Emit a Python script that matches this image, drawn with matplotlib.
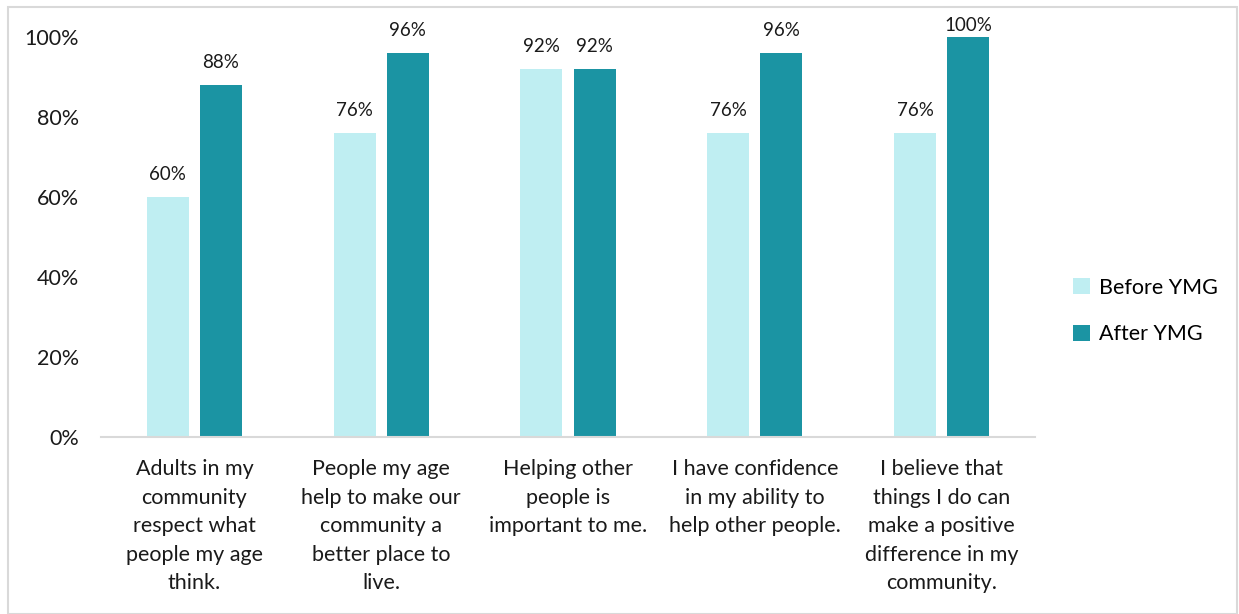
import numpy as np
import matplotlib.pyplot as plt
from matplotlib.patches import Rectangle

plt.rcParams['font.family'] = ['Lato', 'DejaVu Sans']

categories = [
    "Adults in my\ncommunity\nrespect what\npeople my age\nthink.",
    "People my age\nhelp to make our\ncommunity a\nbetter place to\nlive.",
    "Helping other\npeople is\nimportant to me.",
    "I have confidence\nin my ability to\nhelp other people.",
    "I believe that\nthings I do can\nmake a positive\ndifference in my\ncommunity.",
]
before = [60, 76, 92, 76, 76]
after = [88, 96, 92, 96, 100]
series_names = ["Before YMG", "After YMG"]
colors = ["#bfeef2", "#1b94a3"]

fig = plt.figure(figsize=(12.39, 6.14), dpi=100)
ax = fig.add_axes([101 / 1239, 1 - 437 / 614, 934 / 1239, 400 / 614])

x = np.arange(len(categories))
width = 0.225
offset = 0.142

for vals, off, name, col in zip([before, after], [-offset, offset], series_names, colors):
    bars = ax.bar(x + off, vals, width, color=col, label=name)
    for b, v in zip(bars, vals):
        # labels at the top of the scale get pulled down to stay inside the figure
        dy = 10 if v < 100 else 2
        ax.annotate(f"{v}%", (b.get_x() + b.get_width() / 2, v),
                    xytext=(0, dy), textcoords="offset points",
                    ha="center", va="bottom", fontsize=13.5, color="#1a1a1a")

ax.set_xlim(-0.5, len(categories) - 0.5)
ax.set_ylim(0, 100)
ax.set_yticks(range(0, 101, 20))
ax.set_yticklabels([f"{t}%" for t in range(0, 101, 20)], fontsize=15.5, color="#1a1a1a")
ax.set_xticks(x)
ax.set_xticklabels(categories, fontsize=15.5, color="#1a1a1a", va="top")
for lbl in ax.get_xticklabels():
    lbl.set_linespacing(1.53)
ax.tick_params(axis="both", length=0)
ax.tick_params(axis="y", pad=16)
ax.tick_params(axis="x", pad=16)

for s in ["top", "right", "left"]:
    ax.spines[s].set_visible(False)
ax.spines["bottom"].set_color("#d9d9d9")
ax.spines["bottom"].set_linewidth(1.5)

fig.legend(*ax.get_legend_handles_labels(), loc="center left",
           bbox_to_anchor=(1054 / 1239, 1 - 311 / 614), frameon=False,
           fontsize=15.5, handlelength=0.75, handleheight=0.75, labelspacing=1.25,
           handletextpad=0.45)

# thin frame round the whole figure
fig.patches.append(Rectangle((8 / 1239, 0), 1 - 8 / 1239 - 0.002, 1 - 7 / 614,
                             transform=fig.transFigure, fill=False,
                             edgecolor="#d9d9d9", linewidth=1.5))

fig.savefig("out.png", dpi=100)
